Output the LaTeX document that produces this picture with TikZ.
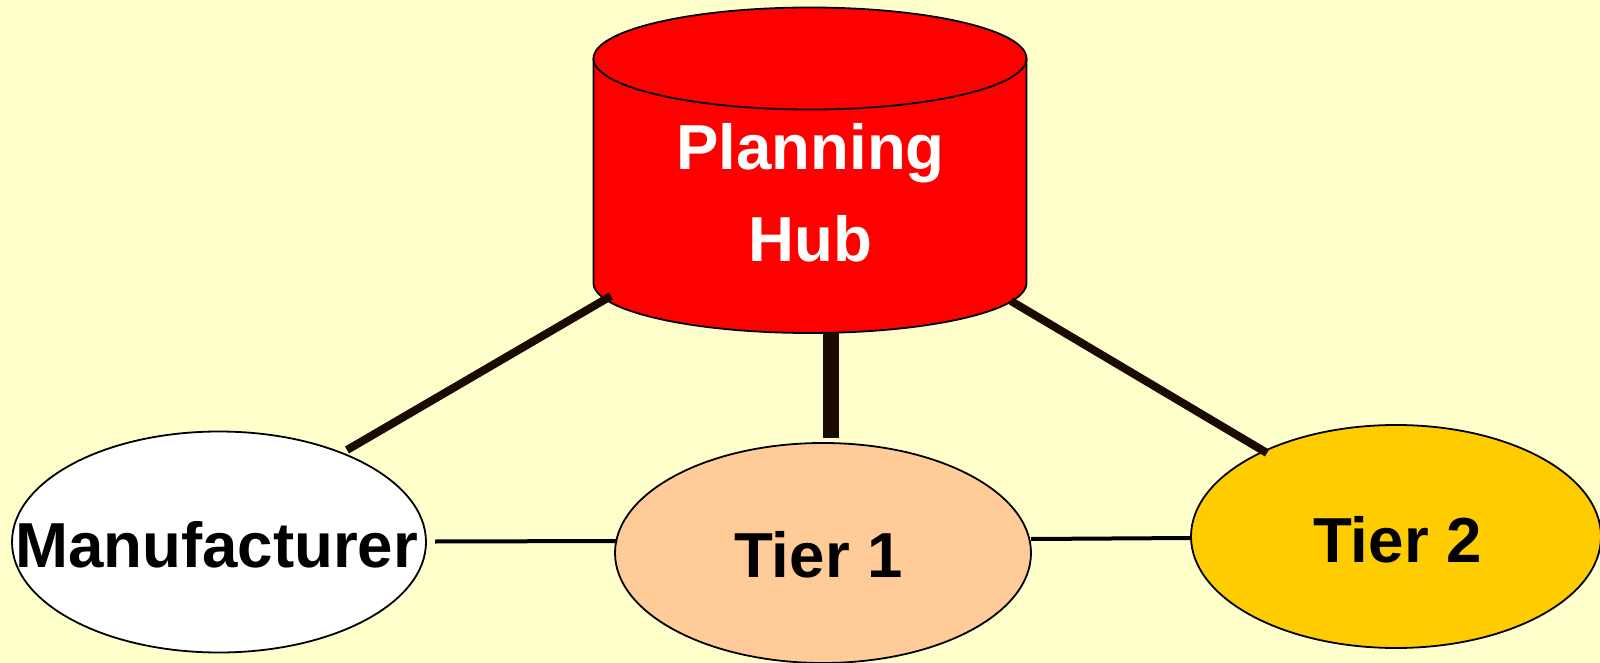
\documentclass[tikz,border=0pt]{standalone}
\usepackage{fontspec}
\setmainfont{Liberation Sans}
\usetikzlibrary{shapes.geometric}
\definecolor{paper}{HTML}{FFFFCC}
\definecolor{hubred}{HTML}{FF0000}
\definecolor{tierone}{HTML}{FFCC99}
\definecolor{tiertwo}{HTML}{FFCC00}
\definecolor{linkdark}{HTML}{1A0A00}
\tikzset{
  party/.style={ellipse, draw=black, line width=0.9pt, inner sep=0pt},
  label text/.style={font=\fontsize{31.8}{38}\selectfont\bfseries, inner sep=0pt, anchor=base},
  hub text/.style={font=\fontsize{31.8}{46}\selectfont\bfseries, text=white, inner sep=0pt, align=center},
  thin link/.style={draw=black, line width=2pt},
  thick link/.style={draw=linkdark, line width=4pt},
}
\begin{document}
\begin{tikzpicture}[x=0.5pt, y=-0.5pt]
  % page and background
  \useasboundingbox (0,0) rectangle (1600,663);
  \fill[paper] (0,0) rectangle (1600,663);

  % Planning hub cylinder
  \filldraw[fill=hubred, draw=black, line width=0.9pt]
    (593.5,58.5) -- (593.5,283)
    arc[start angle=180, end angle=0, x radius=216.5, y radius=50]
    -- (1026.5,58.5);
  \filldraw[fill=hubred, draw=black, line width=0.9pt]
    (810,58.5) ellipse[x radius=216.5, y radius=51];
  \node[hub text] (hub) at (810.5,193) {Planning\\Hub};

  % supply chain parties (sizes in pt, half the pixel size)
  \node[party, fill=white, minimum width=207pt, minimum height=110.5pt] (man) at (219,542) {};
  \node[party, fill=tierone, minimum width=208pt, minimum height=110pt] (t1) at (823,553) {};
  \node[party, fill=tiertwo, minimum width=205pt, minimum height=111.5pt] (t2) at (1396,536.5) {};
  \node[label text] (mantext) at (216.5,567) {Manufacturer};
  \node[label text] (t1text) at (818.5,577) {Tier 1};
  \node[label text] (t2text) at (1397.5,562) {Tier 2};

  % connector end points
  \coordinate (hubL) at (611,296);
  \coordinate (hubB) at (831,333);
  \coordinate (hubR) at (1011,301);
  \coordinate (manTR) at (347,450);
  \coordinate (manE) at (435,541.5);
  \coordinate (t1W) at (617,541);
  \coordinate (t1N) at (831,438);
  \coordinate (t1E) at (1031,539);
  \coordinate (t2W) at (1191,538);
  \coordinate (t2NW) at (1267,453);

  % links
  \draw[thin link] (manE) -- (t1W);
  \draw[thin link] (t1E) -- (t2W);
  \draw[thick link] (hubL) -- (manTR);
  \draw[thick link, line width=8pt] (hubB) -- (t1N);
  \draw[thick link] (hubR) -- (t2NW);
\end{tikzpicture}
\end{document}
